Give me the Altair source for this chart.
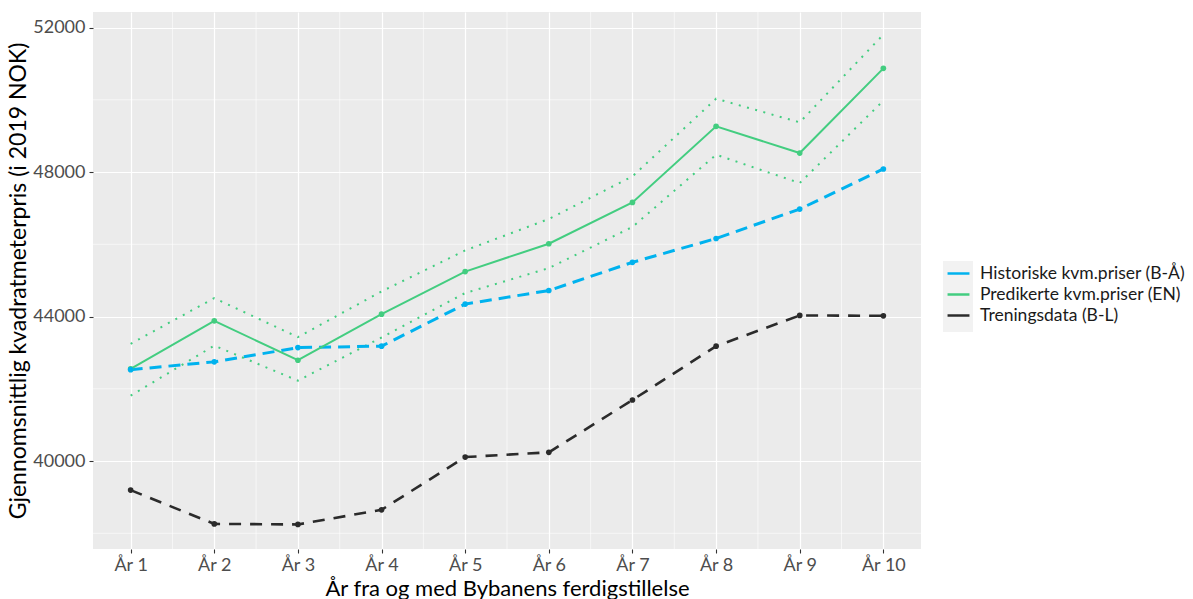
import altair as alt
import pandas as pd

# Year index after the light rail line opened
years = [1, 2, 3, 4, 5, 6, 7, 8, 9, 10]

# Average price per square metre (2019 NOK)
historical = [42530, 42745, 43140, 43180, 44345, 44720, 45500, 46160, 46975, 48085]
predicted = [42550, 43880, 42790, 44065, 45245, 46015, 47160, 49265, 48525, 50870]
pred_upper = [43245, 44510, 43430, 44695, 45830, 46700, 47880, 50030, 49375, 51805]
pred_lower = [41810, 43195, 42225, 43420, 44650, 45340, 46480, 48480, 47695, 49975]
training = [39195, 38260, 38245, 38650, 40110, 40240, 41690, 43180, 44030, 44020]

series_names = [
    "Historiske kvm.priser (B-Å)",
    "Predikerte kvm.priser (EN)",
    "Treningsdata (B-L)",
]
series_colors = ["#00B2EE", "#43CD80", "#2B2B2B"]

y_major = [40000, 44000, 48000, 52000]
y_minor = [38000, 42000, 46000, 50000]
x_minor = [1.5, 2.5, 3.5, 4.5, 5.5, 6.5, 7.5, 8.5, 9.5]

FONT = "Lato"

rows = []
for name, vals in zip(series_names, [historical, predicted, training]):
    for yr, v in zip(years, vals):
        rows.append({"year": yr, "value": v, "series": name})
df = pd.DataFrame(rows)

bounds = pd.DataFrame(
    [{"year": yr, "value": v, "bound": "upper"} for yr, v in zip(years, pred_upper)]
    + [{"year": yr, "value": v, "bound": "lower"} for yr, v in zip(years, pred_lower)]
)

x_scale = alt.Scale(domain=[0.55, 10.45], nice=False, zero=False)
y_scale = alt.Scale(domain=[37565, 52430], nice=False, zero=False)
color_scale = alt.Scale(domain=series_names, range=series_colors)

x_axis = alt.Axis(
    values=years,
    labelExpr="'År ' + datum.value",
    title="År fra og med Bybanens ferdigstillelse",
    labelPadding=3,
    titlePadding=4,
    titleFontSize=22,
)
y_axis = alt.Axis(
    values=y_major,
    format="d",
    title="Gjennomsnittlig kvadratmeterpris (i 2019 NOK)",
    labelPadding=4,
    titlePadding=2,
    titleFontSize=23,
)

X = alt.X("year:Q", scale=x_scale, axis=x_axis)
Y = alt.Y("value:Q", scale=y_scale, axis=y_axis)


def only(name):
    return alt.datum.series == name


# Minor grid lines
minor_x = (
    alt.Chart(pd.DataFrame({"year": x_minor}))
    .mark_rule(color="white", strokeWidth=0.6)
    .encode(x=alt.X("year:Q", scale=x_scale, axis=x_axis))
)
minor_y = (
    alt.Chart(pd.DataFrame({"value": y_minor}))
    .mark_rule(color="white", strokeWidth=0.6)
    .encode(y=alt.Y("value:Q", scale=y_scale, axis=y_axis))
)

# Grey backdrop behind the legend keys
legend_keys = (
    alt.Chart(pd.DataFrame({"k": [0]}))
    .mark_rect(color="#F2F2F2")
    .encode(
        x=alt.value(850), x2=alt.value(880), y=alt.value(249), y2=alt.value(320)
    )
)

band = (
    alt.Chart(bounds)
    .mark_line(color=series_colors[1], strokeWidth=2, strokeDash=[2, 6.5])
    .encode(x=X, y=Y, detail="bound:N")
)

hist_line = (
    alt.Chart(df)
    .transform_filter(only(series_names[0]))
    .mark_line(color=series_colors[0], strokeWidth=3, strokeDash=[12, 7])
    .encode(x=X, y=Y)
)

train_line = (
    alt.Chart(df)
    .transform_filter(only(series_names[2]))
    .mark_line(color=series_colors[2], strokeWidth=2.6, strokeDash=[12, 9])
    .encode(x=X, y=Y)
)

# Solid prediction line; it carries the colour legend for all three series
pred_line = (
    alt.Chart(df)
    .transform_filter(only(series_names[1]))
    .mark_line(strokeWidth=2)
    .encode(
        x=X,
        y=Y,
        color=alt.Color(
            "series:N",
            scale=color_scale,
            legend=alt.Legend(
                title=None,
                orient="none",
                legendX=853,
                legendY=249,
                symbolType="stroke",
                symbolSize=480,
                symbolStrokeWidth=2.6,
                symbolDash=[1, 0],
                rowPadding=0,
                labelOffset=9,
                labelFontSize=17.5,
                labelFont=FONT,
                labelColor="#1A1A1A",
                labelLimit=0,
                padding=0,
            ),
        ),
    )
)


def dots(idx):
    return (
        alt.Chart(df)
        .transform_filter(only(series_names[idx]))
        .mark_circle(size=32, opacity=1, color=series_colors[idx])
        .encode(x=X, y=Y)
    )


chart = (
    alt.layer(
        legend_keys,
        minor_x,
        minor_y,
        band,
        hist_line,
        train_line,
        pred_line,
        dots(1),
        dots(2),
        dots(0),
    )
    .properties(
        width=828,
        height=537,
        autosize=alt.AutoSizeParams(type="none"),
        padding={"left": 93, "top": 12, "right": 272, "bottom": 50},
        background="white",
    )
    .configure_view(fill="#EBEBEB", stroke=None)
    .configure_axis(
        domain=False,
        grid=True,
        gridColor="white",
        gridWidth=1.2,
        ticks=True,
        tickColor="#333333",
        tickSize=4,
        tickWidth=1.1,
        labelFont=FONT,
        labelFontSize=18,
        labelColor="#4D4D4D",
        titleFont=FONT,
        titleFontWeight="normal",
        titleColor="black",
    )
)

chart.save("out.html", embed_options={"renderer": "svg", "actions": False})
